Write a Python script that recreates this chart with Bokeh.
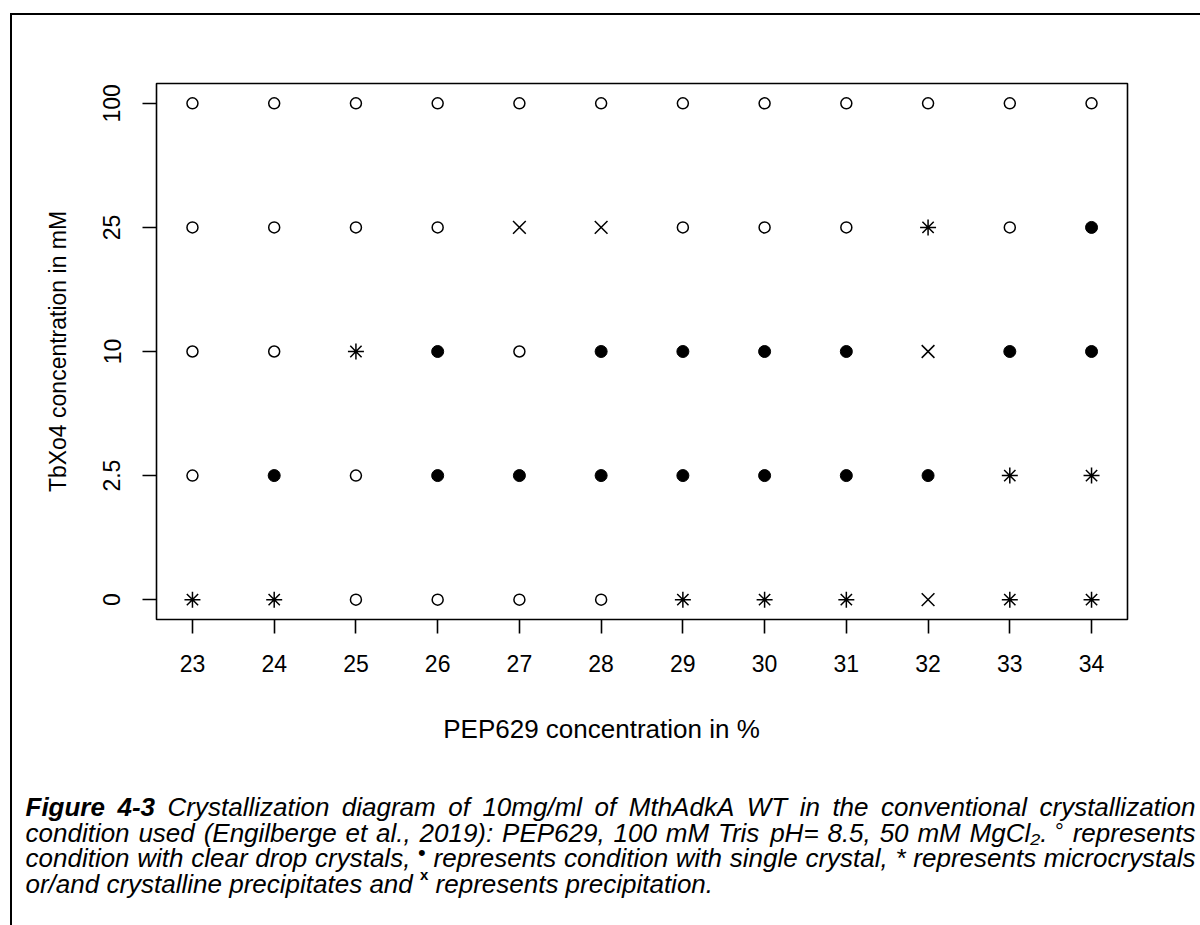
from bokeh.plotting import figure
from bokeh.models import Range1d, FixedTicker
from bokeh.layouts import column, row
from bokeh.core.properties import value
from bokeh.embed import file_html
from bokeh.resources import INLINE

# ---------------- data ----------------
peg_pct = [23, 24, 25, 26, 27, 28, 29, 30, 31, 32, 33, 34]
tbxo4_levels = ["0", "2.5", "10", "25", "100"]
# O = clear drop crystals, S = single crystal, M = microcrystals / crystalline precipitate, P = precipitation
row_0 = ["M", "M", "O", "O", "O", "O", "M", "M", "M", "P", "M", "M"]
row_2_5 = ["O", "S", "O", "S", "S", "S", "S", "S", "S", "S", "M", "M"]
row_10 = ["O", "O", "M", "S", "O", "S", "S", "S", "S", "P", "S", "S"]
row_25 = ["O", "O", "O", "O", "P", "P", "O", "O", "O", "M", "O", "S"]
row_100 = ["O", "O", "O", "O", "O", "O", "O", "O", "O", "O", "O", "O"]
rows = [row_0, row_2_5, row_10, row_25, row_100]

x_label = "PEP629 concentration in %"
y_label = "TbXo4 concentration in mM"

FONT = "Liberation Sans"

# ---------------- layout geometry (page pixels) ----------------
OX, OY = 12, 15               # content origin inside the outer frame
BL, BR, BT, BB = 156, 1127, 83, 619
W = 1200 - OX
SPLIT = 700                   # page y where the caption figure starts

p = figure(width=W, height=SPLIT - OY,
           x_range=Range1d(22.56, 34.44), y_range=Range1d(-0.16, 4.16),
           output_backend="svg", toolbar_location=None,
           min_border_left=BL - OX, min_border_right=W - (BL - OX) - (BR - BL),
           min_border_top=BT - OY, min_border_bottom=(SPLIT - OY) - (BT - OY) - (BB - BT))
p.grid.visible = False
p.outline_line_color = "black"
p.outline_line_width = 1.6
p.background_fill_color = "white"
p.border_fill_color = "white"

# ---------------- markers ----------------
def pick(code):
    xs, ys = [], []
    for yi, r in enumerate(rows):
        for xv, cde in zip(peg_pct, r):
            if cde == code:
                xs.append(xv)
                ys.append(yi)
    return xs, ys

xs, ys = pick("O")
p.scatter(xs, ys, marker="circle", size=11, fill_color=None, line_color="black", line_width=1.5)
xs, ys = pick("S")
p.scatter(xs, ys, marker="circle", size=12, fill_color="black", line_color="black", line_width=1)
xs, ys = pick("M")
p.scatter(xs, ys, marker="asterisk", size=16, line_color="black", line_width=1.5)
xs, ys = pick("P")
p.scatter(xs, ys, marker="x", size=18, line_color="black", line_width=1.5)

# ---------------- axes ----------------
for ax in (p.xaxis[0], p.yaxis[0]):
    ax.axis_line_color = None
    ax.major_tick_line_color = "black"
    ax.major_tick_line_width = 1.6
    ax.major_tick_out = 14
    ax.major_tick_in = 0
    ax.minor_tick_line_color = None
    ax.major_label_text_font = FONT
    ax.major_label_text_font_size = "23px"
    ax.major_label_text_color = "black"

p.xaxis.ticker = FixedTicker(ticks=peg_pct)
p.xaxis.major_label_standoff = 21
p.yaxis.ticker = FixedTicker(ticks=list(range(len(tbxo4_levels))))
p.yaxis.major_label_overrides = {i: lvl for i, lvl in enumerate(tbxo4_levels)}
p.yaxis.major_label_orientation = "vertical"
p.yaxis.major_label_standoff = 22
p.yaxis.axis_label = y_label
p.yaxis.axis_label_text_font = FONT
p.yaxis.axis_label_text_font_size = "23px"
p.yaxis.axis_label_text_font_style = "normal"
p.yaxis.axis_label_text_color = "black"
p.yaxis.axis_label_standoff = 30

# ---------------- caption figure (x label + justified caption) ----------------
c = figure(width=W, height=925 - SPLIT, x_range=Range1d(OX, 1200), y_range=Range1d(925, SPLIT),
           output_backend="svg", toolbar_location=None, x_axis_type=None, y_axis_type=None,
           min_border=0, min_border_left=0, min_border_right=0, min_border_top=0, min_border_bottom=0)
c.grid.visible = False
c.outline_line_color = None
c.background_fill_color = "white"
c.border_fill_color = "white"

for fig in (p, c):
    if "frame_align" in fig.properties():
        fig.frame_align = False

c.text(x=[601], y=[728], text=[x_label], text_font=value(FONT), text_font_size=value("26px"),
       text_align="center", text_baseline="alphabetic", text_color="black")

W_REG = {" ": 278, "(": 333, ")": 333, "*": 389, ",": 278, "-": 333, ".": 278, "/": 278,
         ":": 278, "=": 584, "%": 889, "°": 400, "•": 350, "₂": 333}
for ch in "0123456789":
    W_REG[ch] = 556
W_REG.update(dict(zip("ABCDEFGHIJKLMNOPQRSTUVWXYZ",
                      [667, 667, 722, 722, 667, 611, 778, 722, 278, 500, 667, 556, 833, 722,
                       778, 667, 778, 722, 667, 611, 722, 667, 944, 667, 667, 611])))
W_REG.update(dict(zip("abcdefghijklmnopqrstuvwxyz",
                      [556, 556, 500, 556, 556, 278, 556, 556, 222, 222, 500, 222, 833, 556,
                       556, 556, 556, 333, 500, 278, 556, 500, 722, 500, 500, 500])))
W_BOLD = dict(W_REG)
W_BOLD.update({"g": 611, "u": 611, "r": 389, "i": 278, "x": 556})

CS = 26.0
CAP_LEFT, CAP_RIGHT = 25, 1195


def width(word, style, size):
    table = W_BOLD if "bold" in style else W_REG
    return sum(table.get(ch, 500) for ch in word) / 1000 * size


def words(s, style="italic", size=CS, rz=0):
    return [(w, style, size, rz) for w in s.split()]


line1 = words("Figure 4-3", "bold italic") + \
    words("Crystallization diagram of 10mg/ml of MthAdkA WT in the conventional crystallization")
line2 = words("condition used (Engilberge et al., 2019): PEP629, 100 mM Tris pH= 8.5, 50 mM MgCl₂.") + \
    [("°", "normal", 22, 1)] + words("represents")
line3 = words("condition with clear drop crystals,") + [("•", "normal", 22, 6)] + \
    words("represents condition with single crystal, * represents microcrystals")
line4 = words("or/and crystalline precipitates and") + [("x", "bold", 15, 9)] + \
    words("represents precipitation.")

baselines = [806, 832, 857.5, 883]
groups = {}
for li, (ws, justify) in enumerate([(line1, True), (line2, True), (line3, True), (line4, False)]):
    widths = [width(w, st, sz) for w, st, sz, _ in ws]
    gap = (CAP_RIGHT - CAP_LEFT - sum(widths)) / (len(ws) - 1) if justify else 0.278 * CS
    xcur = CAP_LEFT
    for (w, st, sz, rz), wd in zip(ws, widths):
        g = groups.setdefault((st, sz), {"x": [], "y": [], "t": []})
        g["x"].append(xcur)
        g["y"].append(baselines[li] - rz)
        g["t"].append(w)
        xcur += wd + gap

for (st, sz), g in groups.items():
    c.text(x=g["x"], y=g["y"], text=g["t"], text_font=value(FONT),
           text_font_size=value(f"{sz}px"), text_font_style=value(st),
           text_align="left", text_baseline="alphabetic", text_color="black")

layout = column(p, row(c), margin=(OY - 2, 0, 0, OX - 2),
                styles={"border-left": "2px solid black", "border-top": "2px solid black"})

open("out.html", "w").write(file_html(layout, INLINE))
